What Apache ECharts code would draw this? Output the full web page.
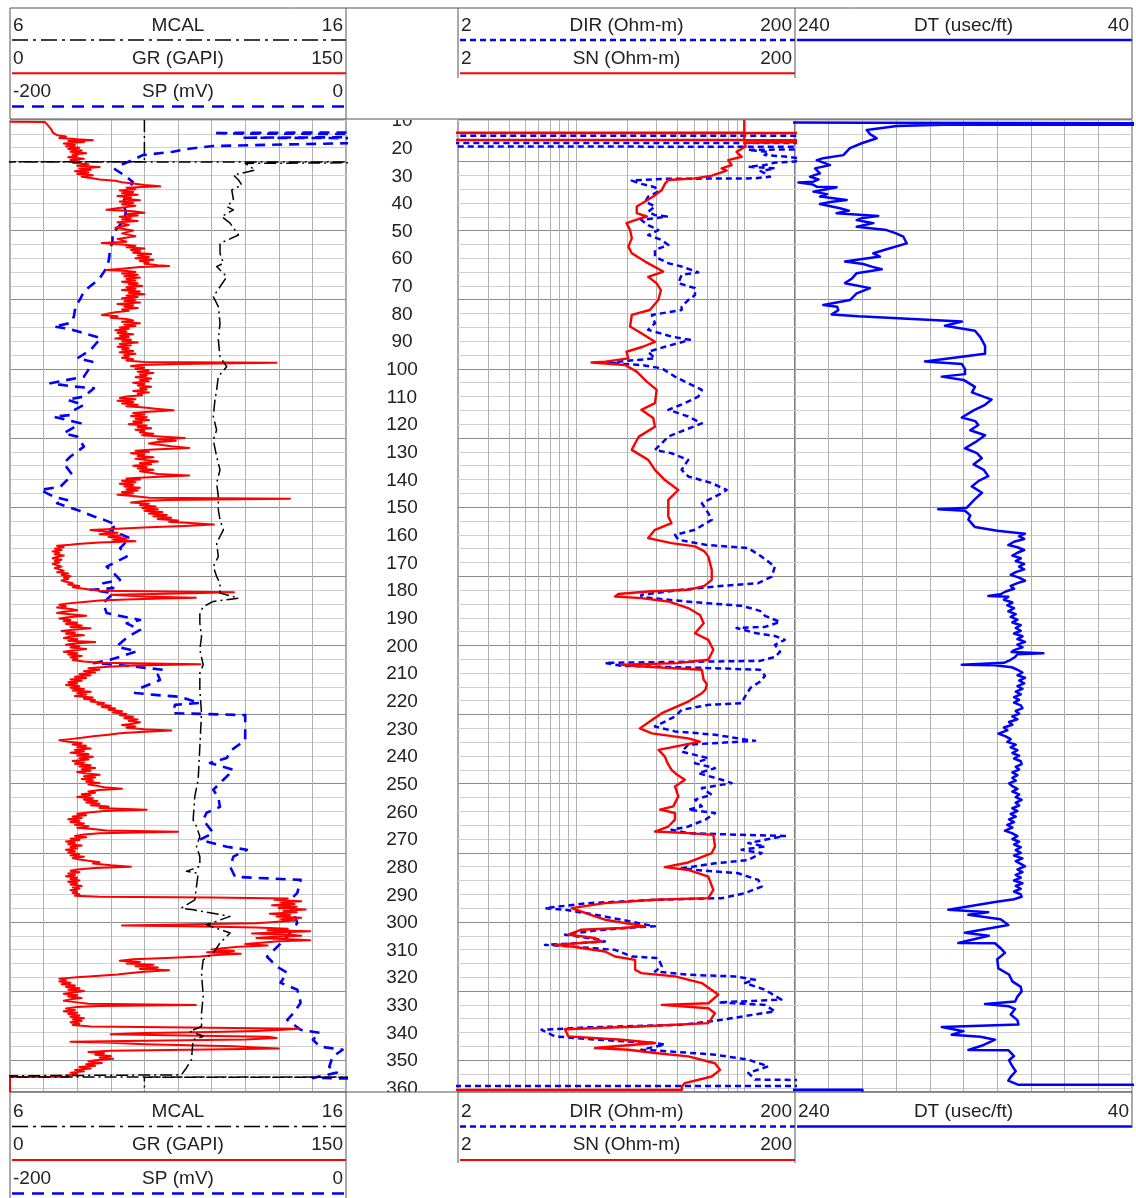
<!DOCTYPE html>
<html>
<head>
<meta charset="utf-8">
<title>Well log</title>
<script src="https://cdn.jsdelivr.net/npm/echarts@6/dist/echarts.min.js"></script>
<style>
  html, body { margin: 0; padding: 0; background: #fff; }
  #chart { width: 1136px; height: 1198px; }
</style>
</head>
<body>
<div id="chart"></div>
<script>
// ---- depth scale -------------------------------------------------------
const depthMin = 10;
const depthMax = 361.5;
const depthTicks = [10,20,30,40,50,60,70,80,90,100,110,120,130,140,150,160,170,180,
  190,200,210,220,230,240,250,260,270,280,290,300,310,320,330,340,350,360];

// resistivity track grid values (log decades 2..200)
const logGridValues = [3,4,5,6,7,8,9,10,20,30,40,50,60,70,80,90,100];

// ---- curves: [depth (ft), value] ---------------------------------------
const mcalCurve = [
  [10,10],[25.1,10],[25.15,0],[25.2,20],[25.7,13.0],[28.1,13.3],[29.9,12.65],[31.7,12.8],
  [33.5,12.9],[35.3,12.6],[38.9,12.65],[41.3,12.45],[42.5,12.65],[44.9,12.3],[47.3,12.55],
  [51.6,12.8],[54.6,12.25],[58.2,12.25],[61.8,12.35],[63,12.15],[66.7,12.45],[70.3,12.25],
  [73.9,12.05],[77.5,12.2],[83.5,12.25],[89.5,12.2],[95.6,12.25],[99.2,12.45],[102.8,12.2],
  [107.6,12.15],[111.2,12.1],[117.3,12.05],[122.1,12.15],[125.7,12.05],[131.7,12.15],
  [136.5,12.25],[141.3,12.15],[146.2,12.2],[151,12.2],[154.6,12.25],[158.2,12.35],[163,12.15],
  [167.9,12.2],[171.5,12.05],[175.1,12.15],[177.5,12.25],[181.1,12.25],[182.9,12.8],[184.1,12.05],
  [186,11.75],[188.3,11.65],[191.9,11.65],[196.8,11.7],[201.6,11.65],[207,11.75],[210,11.65],
  [216,11.65],[224.5,11.7],[236.6,11.65],[248.6,11.6],[254.6,11.5],[263.1,11.45],[265.5,11.55],
  [269.1,11.65],[272.7,11.55],[276.3,11.65],[279.9,11.65],[281.7,11.25],[282.4,11.6],[287.2,11.55],
  [292,11.5],[295,11.1],[295.6,11.45],[298,12.55],[301,11.85],[304,12.55],[307.6,12.25],
  [311.3,12.05],[313.7,11.75],[318.5,11.7],[326.9,11.75],[333,11.7],[337.8,11.7],[339.6,11.35],
  [340.8,11.65],[341.4,11.75],[342.6,11.45],[349.8,11.4],[352.8,11.25],[355.3,11.1],[356.0,11.1],
  [356.05,0],[356.1,20],[356.2,10],[361.5,10]
];

const grCurve = [
  [10.6,0],[10.7,15.5],[11.5,16.5],[12.5,17.5],[13.5,18.5],[14.5,19],[15.5,21],[16,25],[16.5,22],
  [17,30],[17.3,37],[17.6,26],[18,33],[18.5,24],[19,29],[19.5,25],[20,31],[20.5,26],[21,32],
  [21.5,27],[22,34],[22.5,28],[23,30],[23.5,26],[24,33],[24.5,27],[25,31],[25.5,28],[26,35],
  [26.5,30],[27,40],[27.5,31],[28,36],[28.5,29],[29,35],[29.5,30],[30,37],[30.5,32],[31,36],
  [31.5,40],[32,47],[32.5,50],[33,55],[33.5,60],[34,67],[34.5,52],[35,56],[35.5,49],[36,55],
  [36.5,50],[37,57],[37.5,48],[38,54],[38.5,51],[39,58],[39.5,49],[40,55],[40.5,50],[41,56],
  [41.5,52],[42,47],[42.5,43],[43,55],[43.5,60],[44,52],[44.5,57],[45,49],[45.5,54],[46,50],
  [46.5,57],[47,48],[48,53],[49,47],[50,55],[51,50],[52,56],[53,48],[54,52],[54.5,41],[55,50],
  [55.5,56],[56,52],[56.5,60],[57,54],[57.5,58],[58,55],[58.5,63],[59,57],[59.5,62],[60,56],
  [60.5,64],[61,58],[61.5,62],[62,60],[62.5,66],[62.8,71],[63.2,58],[63.8,50],[64.2,43],[64.6,52],
  [65,56],[65.5,50],[66,57],[66.5,51],[67,58],[67.5,52],[68,56],[68.5,50],[69,57],[69.5,53],
  [70,59],[70.5,52],[71,56],[71.5,50],[72,58],[72.5,53],[73,60],[73.5,52],[74,57],[74.5,50],
  [75,56],[75.5,51],[76,58],[76.5,48],[77,55],[77.5,51],[78,57],[78.5,50],[79,53],[79.5,47],
  [80,44],[80.5,41],[81,48],[81.5,45],[82,52],[82.5,55],[83,50],[83.5,58],[84,51],[84.5,56],
  [85,49],[85.5,53],[86,47],[86.5,52],[87,48],[87.5,55],[88,49],[88.5,53],[89,47],[89.5,54],
  [90,50],[90.5,57],[91,49],[91.5,54],[92,48],[92.5,53],[93,50],[93.5,55],[94,49],[94.5,56],
  [95,51],[95.5,53],[96,50],[96.5,55],[97,52],[97.5,60],[97.8,119],[98.2,75],[98.6,58],[99,54],
  [99.5,60],[100,56],[100.5,62],[101,57],[101.5,64],[102,58],[102.5,61],[103,56],[103.5,63],
  [104,58],[104.5,62],[105,55],[105.5,60],[106,57],[106.5,63],[107,58],[107.5,61],[108,55],
  [108.5,62],[109,57],[109.5,59],[110,52],[110.5,49],[111,56],[111.5,48],[112,55],[112.5,50],
  [113,57],[113.5,52],[114,60],[114.5,66],[115,73],[115.5,62],[116,55],[116.5,60],[117,54],
  [117.5,61],[118,56],[118.5,62],[119,55],[119.5,59],[120,53],[120.5,61],[121,57],[121.5,63],
  [122,56],[122.5,60],[123,58],[123.5,64],[124,59],[124.6,70],[125,78],[125.5,66],[126,74],
  [126.5,65],[127,62],[127.5,68],[128,72],[128.6,80],[129.2,64],[129.6,56],[130,62],[130.5,54],
  [131,60],[131.5,57],[132,64],[132.5,56],[133,61],[133.5,66],[134,58],[134.5,63],[135,55],
  [135.5,61],[136,57],[136.5,64],[137,58],[137.5,62],[138,66],[138.6,80],[139.2,62],[139.6,52],
  [140,58],[140.5,50],[141,56],[141.5,49],[142,55],[142.5,51],[143,58],[143.5,52],[144,57],
  [144.5,50],[145,55],[145.5,48],[146,55],[146.6,62],[147,125],[147.4,70],[147.8,60],[148.3,54],
  [148.8,62],[149.3,58],[149.8,65],[150.3,59],[150.8,66],[151.3,60],[151.8,68],[152.3,62],
  [152.8,70],[153.3,64],[153.8,72],[154.3,66],[154.8,75],[155.3,71],[155.8,82],[156.3,91],
  [156.8,78],[157.3,62],[157.8,48],[158.3,36],[158.8,42],[159.3,48],[159.8,40],[160.3,50],
  [160.8,44],[161.3,52],[161.8,46],[162.3,56],[162.8,40],[163.3,30],[163.6,27],[164,21],
  [164.5,24],[165,20],[165.5,23],[166,19],[166.5,22],[167,20],[167.5,24],[168,21],[168.5,19],
  [169,23],[169.5,20],[170,22],[170.5,19],[171,21],[171.5,23],[172,20],[172.5,22],[173,24],
  [173.5,21],[174,26],[174.5,23],[175,27],[175.5,24],[176,26],[176.5,23],[177,25],[177.5,28],
  [178,26],[178.5,31],[179,28],[179.5,33],[180.2,40],[180.8,100],[181.3,70],[181.7,45],[182.3,60],
  [182.8,83],[183.3,55],[183.8,40],[184.3,33],[184.8,26],[185.3,22],[185.8,25],[186.3,21],
  [186.8,27],[187.3,30],[187.8,24],[188.3,21],[188.8,28],[189.3,34],[189.8,26],[190.3,22],
  [190.8,27],[191.3,24],[191.8,30],[192.3,25],[192.8,32],[193.3,27],[193.8,36],[194.3,28],
  [194.8,23],[195.3,29],[195.8,25],[196.3,33],[196.8,27],[197.3,24],[197.8,30],[198.3,26],
  [198.8,38],[199.3,29],[199.8,25],[200.3,31],[200.8,27],[201.3,34],[201.8,28],[202.3,24],
  [202.8,30],[203.3,26],[203.8,32],[204.3,27],[204.8,30],[205.3,28],[205.8,33],[206.3,40],
  [206.8,85],[207.3,55],[207.8,42],[208.3,35],[208.8,40],[209.3,33],[209.8,38],[210.3,31],
  [210.8,36],[211.3,29],[211.8,34],[212.3,27],[212.8,32],[213.3,26],[213.8,30],[214.3,25],
  [214.8,31],[215.3,27],[215.8,33],[216.3,28],[216.8,36],[217.3,30],[217.8,34],[218.3,29],
  [218.8,37],[219.3,33],[219.8,38],[220.3,36],[220.8,42],[221.3,39],[221.8,45],[222.3,41],
  [222.8,47],[223.3,44],[223.8,50],[224.3,46],[224.8,52],[225.3,49],[225.8,55],[226.3,51],
  [226.8,57],[227.3,53],[227.8,58],[228.3,55],[228.8,50],[229.3,56],[229.8,52],[230.3,60],
  [230.8,72],[231.3,58],[231.8,49],[232.3,44],[232.8,38],[233.3,33],[233.8,28],[234.3,22],
  [234.8,26],[235.3,32],[235.8,28],[236.3,34],[236.8,30],[237.3,36],[237.8,29],[238.3,33],
  [238.8,27],[239.3,35],[239.8,30],[240.3,37],[240.8,31],[241.3,35],[241.8,28],[242.3,33],
  [242.8,29],[243.3,36],[243.8,31],[244.3,38],[244.8,32],[245.3,36],[245.8,30],[246.3,34],
  [246.8,40],[247.3,33],[247.8,38],[248.3,32],[248.8,37],[249.3,34],[249.8,40],[250.3,35],
  [250.8,39],[251.3,42],[251.8,50],[252.3,40],[252.8,35],[253.3,38],[253.8,32],[254.3,36],
  [254.8,30],[255.3,37],[255.8,33],[256.3,39],[256.8,34],[257.3,40],[257.8,36],[258.3,44],
  [258.8,40],[259.4,61],[259.9,42],[260.4,35],[260.9,30],[261.4,34],[261.9,28],[262.4,32],
  [262.9,26],[263.4,31],[263.9,27],[264.4,33],[264.9,29],[265.4,35],[265.9,30],[266.4,37],
  [266.9,43],[267.4,75],[267.9,40],[268.4,33],[268.9,29],[269.4,34],[269.9,27],[270.4,31],
  [270.9,25],[271.4,29],[271.9,26],[272.4,32],[272.9,27],[273.4,30],[273.9,25],[274.4,29],
  [274.9,26],[275.4,31],[275.9,27],[276.4,33],[276.9,28],[277.4,31],[277.9,35],[278.4,40],
  [278.9,37],[279.5,45],[280,54],[280.5,38],[281,30],[281.5,27],[282,31],[282.5,26],[283,29],
  [283.5,25],[284,30],[284.5,27],[285,31],[285.5,26],[286,30],[286.5,27],[287,32],[287.5,28],
  [288,31],[288.5,27],[289,30],[289.5,28],[290,31],[290.5,29],[290.9,40],[291.2,90],[291.5,124],
  [292,118],[292.5,130],[293,121],[293.5,127],[294,117],[294.5,128],[295,120],[295.5,132],
  [296,122],[296.5,128],[297,116],[297.5,125],[298,119],[298.5,130],[299,121],[299.5,127],
  [300,118],[300.5,110],[301,70],[301.3,50],[301.6,80],[302,110],[302.5,124],[303,115],
  [303.4,134],[303.8,118],[304.2,108],[304.6,125],[305,130],[305.4,118],[305.8,110],[306.2,122],
  [306.6,134],[307,120],[307.5,112],[308,105],[308.5,115],[309,102],[309.5,95],[310,90],
  [310.5,100],[311,88],[311.5,103],[312,92],[312.5,85],[313,70],[313.5,55],[314,49],[314.5,58],
  [315,52],[315.5,64],[316,56],[316.5,66],[317,58],[317.5,71],[318,60],[318.5,54],[319,48],
  [319.5,40],[320,30],[320.5,22],[321,25],[321.5,22],[322,27],[322.5,23],[323,29],[323.5,25],
  [324,31],[324.5,26],[325,33],[325.5,28],[326,24],[326.5,30],[327,26],[327.5,32],[328,27],
  [328.5,24],[329,29],[329.6,35],[330,83],[330.4,40],[330.8,30],[331.3,25],[331.8,29],[332.3,24],
  [332.8,30],[333.3,26],[333.8,31],[334.3,27],[334.8,33],[335.3,28],[335.8,32],[336.3,27],
  [336.8,31],[337.3,28],[337.8,36],[338.2,80],[338.6,129],[339,122],[339.4,110],[339.8,90],
  [340.2,60],[340.6,45],[341,70],[341.5,115],[342,119],[342.5,105],[343,60],[343.3,27],[343.7,45],
  [344.2,60],[344.6,80],[345,100],[345.4,110],[345.8,120],[346.2,80],[346.6,45],[347,35],
  [347.5,42],[348,38],[348.5,45],[349,40],[349.5,46],[350,38],[350.5,35],[351,41],[351.5,34],
  [352,38],[352.5,31],[353,36],[353.5,29],[354,33],[354.5,27],[355,30],[355.5,25],[356,26],
  [356.1,0],[361.5,0]
];

const spCurve = [
  [10,3],[14.5,3],[14.7,-79],[14.9,-70],[15.1,20],[16.2,20],[16.4,-62],[16.6,20],[18.2,20],
  [18.4,0],[19.4,-79],[20.5,-95],[21.5,-103],[22.7,-121],[24.5,-127],[26,-133],[27.8,-137.5],
  [30,-132],[32.3,-127],[35.3,-129],[37.5,-131],[40.1,-133],[43,-131],[46.2,-132],[49,-136],
  [51,-139],[54,-139],[57,-140.5],[60,-141],[63,-142],[66.7,-146],[69,-150],[72,-156],
  [74.5,-158],[77.5,-161],[81.1,-162],[83.4,-164],[84.7,-174],[85.5,-165],[87.1,-156],
  [88.9,-146],[91,-149],[93.2,-152],[96.2,-160],[97.4,-151],[100,-153],[102.8,-156],
  [105.2,-176],[106.4,-162],[107,-150],[110,-156],[111.2,-166],[113,-156],[115,-162],
  [116.7,-164],[117.3,-174],[119.7,-158],[121.5,-163],[123.3,-168],[124.5,-160],[128.1,-156],
  [131.7,-164],[134.1,-168],[138.3,-163],[142.6,-170],[143.8,-182],[146.2,-174],[147.4,-166],
  [148.6,-172],[151,-160],[153.4,-150],[154.6,-144],[156.4,-136.5],[158.2,-140.5],[161.2,-128.6],
  [164.8,-134.5],[167.9,-130.6],[171.5,-142.5],[174,-138],[176.3,-134.5],[177.5,-144.5],
  [179.3,-138.5],[179.9,-152],[181.1,-138.5],[184.7,-144.5],[188.3,-142.5],[190.8,-122.6],
  [192,-130.6],[194.4,-122.6],[197,-130],[200.4,-136.5],[202.2,-124.6],[205.2,-140.5],
  [206.4,-150],[207,-136.5],[208.8,-108.8],[210.5,-112],[212.5,-110.7],[215.5,-122.6],
  [217.2,-125.6],[217.9,-113.7],[218.6,-98.9],[220.8,-87],[221.5,-101.8],[224.5,-103],
  [225.2,-60],[234.2,-60],[237.8,-68],[240.7,-71],[242.5,-81],[245,-67],[248.6,-73],
  [252.2,-79],[255,-76],[258.4,-75],[260.5,-83],[263.1,-85],[265.5,-82],[267.8,-79],
  [270.3,-87],[272.8,-71],[273.9,-59],[276.4,-67],[280,-69],[283.7,-66],[284.8,-27],
  [289.5,-29],[293.1,-35],[296.7,-31],[300.4,-29],[305.4,-35],[309,-41],[312.6,-47],
  [316.2,-41],[318.4,-35],[322,-39],[324.5,-29],[329.2,-27],[332.8,-31],[335.4,-35],[339,-27],
  [340.1,-15.5],[342.6,-19.7],[345.1,-15.5],[346.2,-2],[348.8,-8],[352.4,-10],[354.5,-5.5],
  [356.4,-19.7],[356.8,20],[361.5,20]
];

const dirCurve = [
  [15.7,0.01],[15.75,10000],[18.3,10000],[18.35,0.01],[19.6,0.01],[19.65,10000],[20.8,105],
  [21.6,140],[22.7,132],[23.3,182],[24.5,260],[25.5,150],[26.3,132.7],[26.9,105.6],[27.5,152],
  [28.5,125],[29.3,132.7],[30.5,142],[31.1,115.8],[31.15,67],[31.3,32.4],[31.9,21.5],[33.1,24.5],
  [34.3,29.5],[35.9,30.9],[37.7,26.9],[39.5,25.8],[41.3,29.5],[43.2,26.9],[44.4,29.5],[44.9,34.7],
  [46.2,24.5],[48,26.9],[49.8,30.9],[51.6,26.9],[53.4,32.4],[55.2,35.4],[57,29.5],[59.4,29.5],
  [61.8,35.4],[63,42.5],[65.1,53.4],[66,42.5],[69,40.6],[70.8,51],[73.3,51],[75.1,46.5],
  [77.5,42.5],[78.7,42.5],[80.5,28.3],[83.5,29.5],[85.9,26.9],[88.3,37],[89.5,47.6],[92,33.8],
  [93.8,26.9],[96.2,29.5],[97.7,15.6],[98.2,18.7],[98.6,24.5],[99.8,32.4],[102.8,38.8],
  [105.2,46.5],[107.6,56],[110,53.4],[112.4,44.4],[114.8,35.4],[117.2,46.5],[119.7,56],
  [122.1,44.4],[124.5,35.4],[126.9,32.4],[129.3,29.5],[130.5,37],[132.9,46.5],[136.5,42.5],
  [138.9,46.5],[141.3,64.1],[143.8,78.6],[145.6,70.2],[148.6,56],[152.2,61.2],[154.6,64.1],
  [158.2,51],[160,38.8],[161.8,40.6],[163.6,58.8],[164.8,105.6],[167.9,126.8],[171.5,152],
  [175.1,145.5],[177.5,121],[178.7,67],[179.9,42.5],[181.7,24.5],[182.5,24.5],[183.5,35.4],
  [184.6,56],[185.7,97],[187.5,124],[189.3,132.7],[191.5,163],[193.3,132.7],[193.7,90],
  [195.5,115.8],[196.6,152],[198,174],[199.8,152],[202.3,163],[204.2,152],[205.6,124],
  [206.3,14.9],[207.4,18.7],[208.1,54.6],[208.8,124],[211,132.7],[213.1,124],[215.3,109],
  [218.5,101],[220.9,96.5],[221.5,61.2],[223.3,42.5],[225.7,38.8],[228.1,32.4],[229.3,29.5],
  [231.1,38.8],[232.3,67],[234.2,105.6],[234.5,115.8],[235.9,46.5],[238.4,42.5],[240.8,61.2],
  [242.6,51],[244.4,67],[246.2,53.4],[248.6,73.4],[249.8,84.2],[251.6,56],[254,64.1],[255.8,51],
  [258.2,56],[259.4,46.5],[260.6,67],[263,58.8],[265.5,46.5],[266.7,37],[267.9,46.5],[268.5,96.5],
  [268.9,174.4],[270.3,132.7],[271.5,105.6],[272.7,132.7],[273.9,96.5],[275.1,126.8],
  [277.6,105.6],[278.8,67],[280.6,42.5],[281.2,51],[282.4,92],[284.8,121],[287.2,126.8],
  [289.6,101],[291.4,73.4],[292,29.5],[293.2,11.9],[295,6.57],[295.6,8.63],[297.4,13],
  [299.2,18.7],[301.6,29.5],[301.8,24.5],[303.1,13],[304.6,8.63],[306.5,14.2],[307.1,14.9],
  [308.3,6.57],[308.9,9.46],[310.1,17.1],[312.5,21.5],[313.1,30.9],[316.1,32.4],[317.9,29.5],
  [319.1,46.5],[319.7,88],[320.9,115.8],[322.1,101],[324.5,132.7],[326.5,150],[328.1,166],
  [329.1,70.2],[330,132.7],[332.3,152],[335.4,73.4],[337.2,42.5],[338.1,11.9],[339,6.26],
  [341.4,7.53],[342.6,13.6],[343.8,29.5],[344.4,33.8],[346.2,24.5],[346.8,35.4],[348,67],
  [349.8,105.6],[352.2,139],[354.6,105.6],[357,115.8],[358.2,10000],[359.3,10000],[359.35,0.01],
  [361.5,0.01]
];

const snCurve = [
  [10,100],[14.6,100],[14.65,0.01],[14.7,10000],[14.75,100],[17.2,100],[17.25,0.01],[17.3,10000],
  [18.2,100],[19.6,102],[21.5,90],[23.3,96.5],[24.5,80.4],[26.3,84.2],[27.5,73.4],[28.3,78.6],
  [30.1,64.1],[31.1,51],[31.7,35.4],[33.1,33.8],[35.3,32.4],[37.7,28.8],[39.5,25.8],[41.3,23],
  [43.7,23],[44.9,26.4],[46.2,22.5],[47.3,20],[49.8,21],[52.8,21.5],[55.8,20.5],[58.2,21.5],
  [61.2,25.8],[64.8,33],[66.7,26.9],[69.1,30.2],[71.5,32],[75.1,30.9],[78.7,27.5],[80.5,21.5],
  [84.7,21],[87.1,24.5],[90.2,29.5],[92,25],[93.8,20],[96.2,20.5],[97.4,15],[97.7,12.4],
  [98.1,15],[98.6,19.6],[101,23],[104.6,26.4],[107.6,30.2],[112.4,29.5],[114.8,24.5],
  [117.8,28.8],[120.9,29.5],[124.5,23.7],[126.9,22.5],[129.3,21.5],[132.9,26.9],[136.5,29.5],
  [140.2,33.8],[143.8,40.6],[147.4,35.4],[153.4,35.4],[155.8,37],[158.2,29.5],[161.2,26.9],
  [163,37],[164.2,51],[166,58],[167.9,61.2],[172.7,64.1],[176.3,64.1],[178.5,58],[179.9,46.5],
  [180.5,26.9],[181.4,17.9],[182.3,17.1],[182.9,24.5],[184.1,35.4],[186.5,46.5],[189,54.6],
  [192,57.4],[195.6,51],[198,61.2],[201.6,65.5],[205.2,61.2],[206.4,40],[207,18.7],[207.6,23.7],
  [208.8,56],[212.4,57.4],[214,60],[216,58.8],[217.3,56],[220.3,46.5],[224.5,32.4],[227,28.3],
  [230,24],[231.8,28.3],[233.6,46.5],[234.8,54.6],[236.6,38.8],[237.8,31],[240.2,33.8],
  [242.5,35],[245,37],[246.8,40],[248.6,44.4],[251,38.8],[254.6,40.6],[258.2,37.9],[259.4,31.6],
  [260.6,38.8],[263,38.8],[265.5,35.4],[267.3,29.5],[267.9,46.5],[268.5,65.5],[272.7,67],
  [275.1,64.1],[278.5,46.5],[280.2,33.8],[281.2,46.5],[283.6,61.2],[288.4,65.5],[291.4,61.2],
  [292,29.5],[293.2,14.9],[295,9.46],[298,13],[299.2,14.9],[301.6,25.8],[302.2,18.7],[302.8,10.8],
  [304.6,9.03],[305.8,13],[307.1,14.2],[308.3,7.53],[308.9,9.46],[310.7,14.9],[312.5,17.1],
  [313.7,22.5],[317.3,22.5],[318.5,24.5],[319.7,38.8],[322.1,56],[326.3,70.2],[329.4,61.2],
  [330,32.4],[331.2,61.2],[333,67],[336.6,61.2],[337.8,23.7],[338.8,8.63],[341.4,9.03],
  [342.6,18.7],[343.8,29.5],[345.6,13],[346.2,20.5],[347.4,29.5],[348.6,46.5],[351.1,67],
  [353.5,71.8],[355.9,64.1],[358.3,44.4],[359.5,42.6],[360.7,42.6],[360.75,0.01],[361.5,0.01]
];

const dtCurve = [
  [10,300],[10.9,300],[10.95,200],[11.6,200],[11.65,-300],[11.7,152],[12.2,179.6],[13.6,197.4],
  [15.1,195.5],[16.6,191.5],[18.4,200.4],[20.2,207.4],[22.7,211.3],[23.8,223.2],[24.5,227.1],
  [26.3,219.2],[27.5,228.1],[29.3,225.2],[30.5,231.1],[31.5,226],[32.3,229.1],[32.6,238],
  [33.2,230],[34.1,227.1],[34.3,215.3],[35.1,222],[35.9,229.1],[36.8,221],[37.7,225.2],
  [38.9,209.3],[39.6,218],[40.4,225.2],[41.9,213.3],[42.8,208],[43.7,215.3],[44.7,190.6],
  [45.4,200],[46.2,203.4],[47.3,193.5],[48.6,203.4],[49.8,185.6],[51,180],[52.2,175.7],
  [54.6,173.7],[56.4,183.6],[58.2,193.5],[59.4,189.6],[60.3,200],[61.2,210.3],[62.1,199.5],
  [63.1,194],[64,188.5],[65.4,203.4],[67.2,206],[69,210.3],[70.8,195.5],[72.7,203.4],
  [75.1,207.4],[76.9,223.2],[77.5,215],[78.8,214.3],[80.3,218.2],[81,202.4],[82.5,152.9],
  [82.9,141],[84.4,151],[86.2,133.2],[88.5,130],[91.7,127.2],[94.5,127.2],[97.3,162.9],
  [98.2,141],[100.1,139.1],[101.9,139.1],[102.8,152.9],[104,140],[106.5,133.2],[108.5,135],
  [111.1,123.3],[113,127.2],[115,134],[117.6,141],[118.9,133],[120.3,131.2],[122.2,136],
  [124,127.2],[126.5,133],[128.7,139.1],[130.5,132],[132.3,129.2],[134.5,134],[136.5,128],
  [138.8,125.3],[140.5,131],[142.5,135.1],[144.8,129],[147.1,133.2],[150.2,138],[150.8,155],
  [151.3,139.1],[153,136],[154.5,137.1],[157.2,133.2],[158.5,120],[159.6,103.5],[160.5,107],
  [161.5,104],[162.5,110],[163.7,113.4],[164.5,108],[165.5,104],[166.5,108],[167.5,111],
  [168.5,106],[169.5,109],[170.5,104],[171.5,107],[172.5,104],[173.5,109],[174.5,112],
  [175.5,107],[176.6,103.5],[177.5,108],[178.5,112],[179.5,110],[180.5,115],[181.5,118],
  [182.1,125.3],[182.4,113.4],[183.5,116],[184.5,111],[185.5,114],[186.5,110],[187.7,113.4],
  [188.7,109],[189.7,112],[190.7,108],[191.7,111],[192.7,106],[193.7,109],[194.7,106],
  [195.7,110],[196.7,105],[197.7,108],[198.7,103.5],[199.7,108],[200.7,105],[201.7,110],
  [202.4,111.4],[202.8,92.6],[203.2,108],[204.2,109.4],[205.2,112],[206.3,116],[207,141],
  [207.2,121.3],[207.9,111.4],[208.8,108],[209.8,105],[210.8,108],[211.7,103.5],[212.7,107],
  [213.7,104],[214.7,108],[215.7,105],[216.7,109],[217.7,106],[218.7,110],[219.7,107],
  [220.7,110],[221.7,106],[222.7,105],[223.7,109],[224.7,107],[225.7,111],[226.7,108],
  [227.7,113],[228.7,111],[229.7,116],[230.7,114],[231.9,119.3],[232.9,115],[233.9,112],
  [234.9,114],[235.9,109],[236.9,112],[237.9,108],[238.9,111],[239.9,107],[240.9,110],
  [241.9,106],[242.9,105.5],[243.9,109],[244.9,107],[245.9,111],[246.9,108],[247.9,111],
  [248.9,109],[249.9,113],[250.9,111],[251.9,108],[252.9,111],[253.9,107],[254.9,109],
  [255.9,105.5],[256.9,109],[257.9,107],[258.9,111],[259.9,108],[260.9,112],[261.9,109],
  [262.9,113],[263.9,110],[264.9,114],[265.9,111],[267,115.4],[268,111],[269,108],[270,111],
  [271,107],[272,110],[273,106],[274,109],[275,106],[276,110],[277,105],[278,109],[279,106],
  [279.9,103.5],[281,108],[282,105],[283,109],[284,106],[285,110],[286,105],[287,109],[288,106],
  [289,110],[290,106],[290.9,105.5],[291.8,110],
  [292.8,121.3],[295.6,149],[296.5,125.3],[297.4,137.1],[299,118],[301.1,113.4],[303.9,139.1],
  [305,125],[306,132],[307.6,143.1],[307.7,121.3],[309.5,118],[311.2,115.4],[313.5,120],
  [316.8,119.3],[319,113],[321.5,111],[323.5,106],[325.1,105.5],[327,108],[328.8,109.4],
  [329.7,127.2],[330.5,113],[331.5,109.4],[333.5,112],[335.5,108],[337.1,107.4],[338,152.9],
  [339.5,140],[340.8,147],[341.5,130],[342.6,121.3],[344.5,128],[346.3,137.1],[346.4,113.4],
  [348.5,110],[350,113],[351.8,111.4],[354,109],[356,112],[357.4,113.4],[358.9,107.4],
  [359.0,-300],[360.6,-300],[360.62,null],[360.65,300],[360.7,200],[361.5,200]
];

// ---- layout & styling --------------------------------------------------
const FONT = "'Liberation Sans', Arial, Helvetica, sans-serif";
const TOP = 120, BOTTOM = 1092;
const tracks = [
  { left: 10,  width: 336, frame: true },   // MCAL / GR / SP
  { left: 346, width: 112, frame: false },  // depth
  { left: 458, width: 337, frame: true },   // DIR / SN
  { left: 795, width: 337, frame: true }    // DT
];
const RED = '#ff0000', BLUE = '#0000ff', BLACK = '#000000';
const minorC = '#d0d0d0', majorC = '#8c8c8c', vertC = '#b0b0b0', frameC = '#555555';

const hiddenBits = { axisLine: { show: false }, axisTick: { show: false }, axisLabel: { show: false } };

const toXY = c => c.map(([d, v]) => [v, d]);

function curve(name, xi, yi, data, color, width, dash, z) {
  return {
    name, type: 'line', xAxisIndex: xi, yAxisIndex: yi, data: toXY(data),
    showSymbol: false, symbol: 'none', clip: true, silent: true, z: z || 3,
    connectNulls: false, animation: false,
    lineStyle: { color, width, type: dash || 'solid', cap: 'butt', join: 'round' },
    emphasis: { disabled: true }
  };
}

// header / footer legend rows
const track1Rows = [
  { lo: '6', name: 'MCAL', hi: '16', stroke: BLACK, w: 1.6, dash: [16, 5, 3, 5] },
  { lo: '0', name: 'GR (GAPI)', hi: '150', stroke: RED, w: 2, dash: null },
  { lo: '-200', name: 'SP (mV)', hi: '0', stroke: BLUE, w: 2.5, dash: [12, 8] }
];
const track2Rows = [
  { lo: '2', name: 'DIR (Ohm-m)', hi: '200', stroke: BLUE, w: 2.5, dash: [6, 4] },
  { lo: '2', name: 'SN (Ohm-m)', hi: '200', stroke: RED, w: 2, dash: null }
];
const track3Rows = [
  { lo: '240', name: 'DT (usec/ft)', hi: '40', stroke: BLUE, w: 2.5, dash: null }
];

function hline(x1, x2, y, stroke, w, dash) {
  return { type: 'line', silent: true, z: 100,
    shape: { x1, y1: y, x2, y2: y },
    style: { stroke, lineWidth: w, lineDash: dash || null } };
}
function vline(x, y1, y2) {
  return { type: 'line', silent: true, z: 100,
    shape: { x1: x, y1, x2: x, y2 }, style: { stroke: frameC, lineWidth: 1 } };
}
function txt(x, y, text, align) {
  return { type: 'text', silent: true, z: 100, x, y,
    style: { text, fontSize: 19, fontFamily: FONT, fill: '#222', align, verticalAlign: 'middle' } };
}
function legendBlock(x0, x1, rows, textY0, lineY0, step) {
  const out = [];
  rows.forEach((r, i) => {
    const ty = textY0 + i * step, ly = lineY0 + i * step;
    out.push(txt(x0 + 3, ty, r.lo, 'left'));
    out.push(txt((x0 + x1) / 2, ty, r.name, 'center'));
    out.push(txt(x1 - 3, ty, r.hi, 'right'));
    out.push(hline(x0 + 2, x1, ly, r.stroke, r.w, r.dash));
  });
  return out;
}

const graphics = [].concat(
  legendBlock(10, 346, track1Rows, 25.5, 40, 33.3),
  legendBlock(458, 795, track2Rows, 25.5, 40, 33.3),
  legendBlock(795, 1132, track3Rows, 25.5, 40, 33.3),
  legendBlock(10, 346, track1Rows, 1111.5, 1126.5, 33.5),
  legendBlock(458, 795, track2Rows, 1111.5, 1126.5, 33.5),
  legendBlock(795, 1132, track3Rows, 1111.5, 1126.5, 33.5),
  [
    hline(10, 1132, 8, frameC, 1),
    vline(10, 8, 119), vline(346, 8, 119), vline(458, 8, 78), vline(795, 8, 78), vline(1132, 8, 119),
    hline(10, 1132, 119, frameC, 1.2),
    hline(10, 1132, BOTTOM, frameC, 1.2),
    vline(10, BOTTOM, 1198), vline(346, BOTTOM, 1198),
    vline(458, BOTTOM, 1163), vline(795, BOTTOM, 1163), vline(1132, BOTTOM, 1128)
  ]
);

const option = {
  animation: false,
  backgroundColor: '#ffffff',
  grid: tracks.map(t => ({
    left: t.left, top: TOP, width: t.width, height: BOTTOM - TOP,
    show: t.frame, borderColor: frameC, borderWidth: 1, backgroundColor: 'transparent'
  })),
  yAxis: tracks.map((t, i) => Object.assign({
    gridIndex: i, type: 'value', inverse: true, min: depthMin, max: depthMax, interval: 5,
    splitLine: t.frame
      ? { show: true, lineStyle: { color: [minorC, minorC, minorC, majorC, minorC], width: 1 } }
      : { show: false }
  }, hiddenBits)),
  xAxis: [
    Object.assign({ gridIndex: 0, type: 'value', min: 0, max: 150, interval: 15,
      splitLine: { show: true, lineStyle: { color: vertC, width: 1 } } }, hiddenBits),          // 0 GR
    Object.assign({ gridIndex: 0, type: 'value', min: -200, max: 0, splitLine: { show: false } }, hiddenBits), // 1 SP
    Object.assign({ gridIndex: 0, type: 'value', min: 6, max: 16, splitLine: { show: false } }, hiddenBits),   // 2 MCAL
    Object.assign({ gridIndex: 1, type: 'value', min: 0, max: 1, splitLine: { show: false } }, hiddenBits),    // 3 depth
    Object.assign({ gridIndex: 2, type: 'log', logBase: 10, min: 2, max: 200, splitLine: { show: false } }, hiddenBits), // 4 DIR
    Object.assign({ gridIndex: 2, type: 'log', logBase: 10, min: 2, max: 200, splitLine: { show: false } }, hiddenBits), // 5 SN
    Object.assign({ gridIndex: 3, type: 'value', min: 40, max: 240, inverse: true, interval: 20,
      splitLine: { show: true, lineStyle: { color: vertC, width: 1 } } }, hiddenBits)           // 6 DT
  ],
  series: [
    {
      // vertical grid of the logarithmic resistivity track
      type: 'custom', xAxisIndex: 4, yAxisIndex: 2, silent: true, z: 1, animation: false,
      data: logGridValues.map(v => [v, depthMin]),
      renderItem: (params, api) => {
        const a = api.coord([api.value(0), depthMin]);
        const b = api.coord([api.value(0), depthMax]);
        const x = Math.round(a[0]) + 0.5;
        return { type: 'line', shape: { x1: x, y1: a[1], x2: x, y2: b[1] },
          style: { stroke: vertC, lineWidth: 1 } };
      }
    },
    {
      // depth annotations in the centre column
      type: 'custom', xAxisIndex: 3, yAxisIndex: 1, silent: true, clip: true, z: 5, animation: false,
      data: depthTicks.map(d => [0.5, d]),
      renderItem: (params, api) => {
        const p = api.coord([0.5, api.value(1)]);
        return { type: 'text', x: p[0], y: p[1] + 1,
          style: { text: String(api.value(1)), fontSize: 19, fontFamily: FONT, fill: '#222',
            align: 'center', verticalAlign: 'middle' } };
      }
    },
    curve('SP', 1, 0, spCurve, BLUE, 2.6, [10, 7], 3),
    curve('GR', 0, 0, grCurve, RED, 2, null, 4),
    curve('MCAL', 2, 0, mcalCurve, BLACK, 1.5, [12, 4, 2, 4], 5),
    curve('DIR', 4, 2, dirCurve, BLUE, 2.5, [6, 4], 3),
    curve('SN', 5, 2, snCurve, RED, 2.4, null, 4),
    curve('DT', 6, 3, dtCurve, BLUE, 2.5, null, 3)
  ],
  graphic: graphics
};

const chart = echarts.init(document.getElementById('chart'), null, { renderer: 'canvas' });
chart.setOption(option);
</script>
</body>
</html>
